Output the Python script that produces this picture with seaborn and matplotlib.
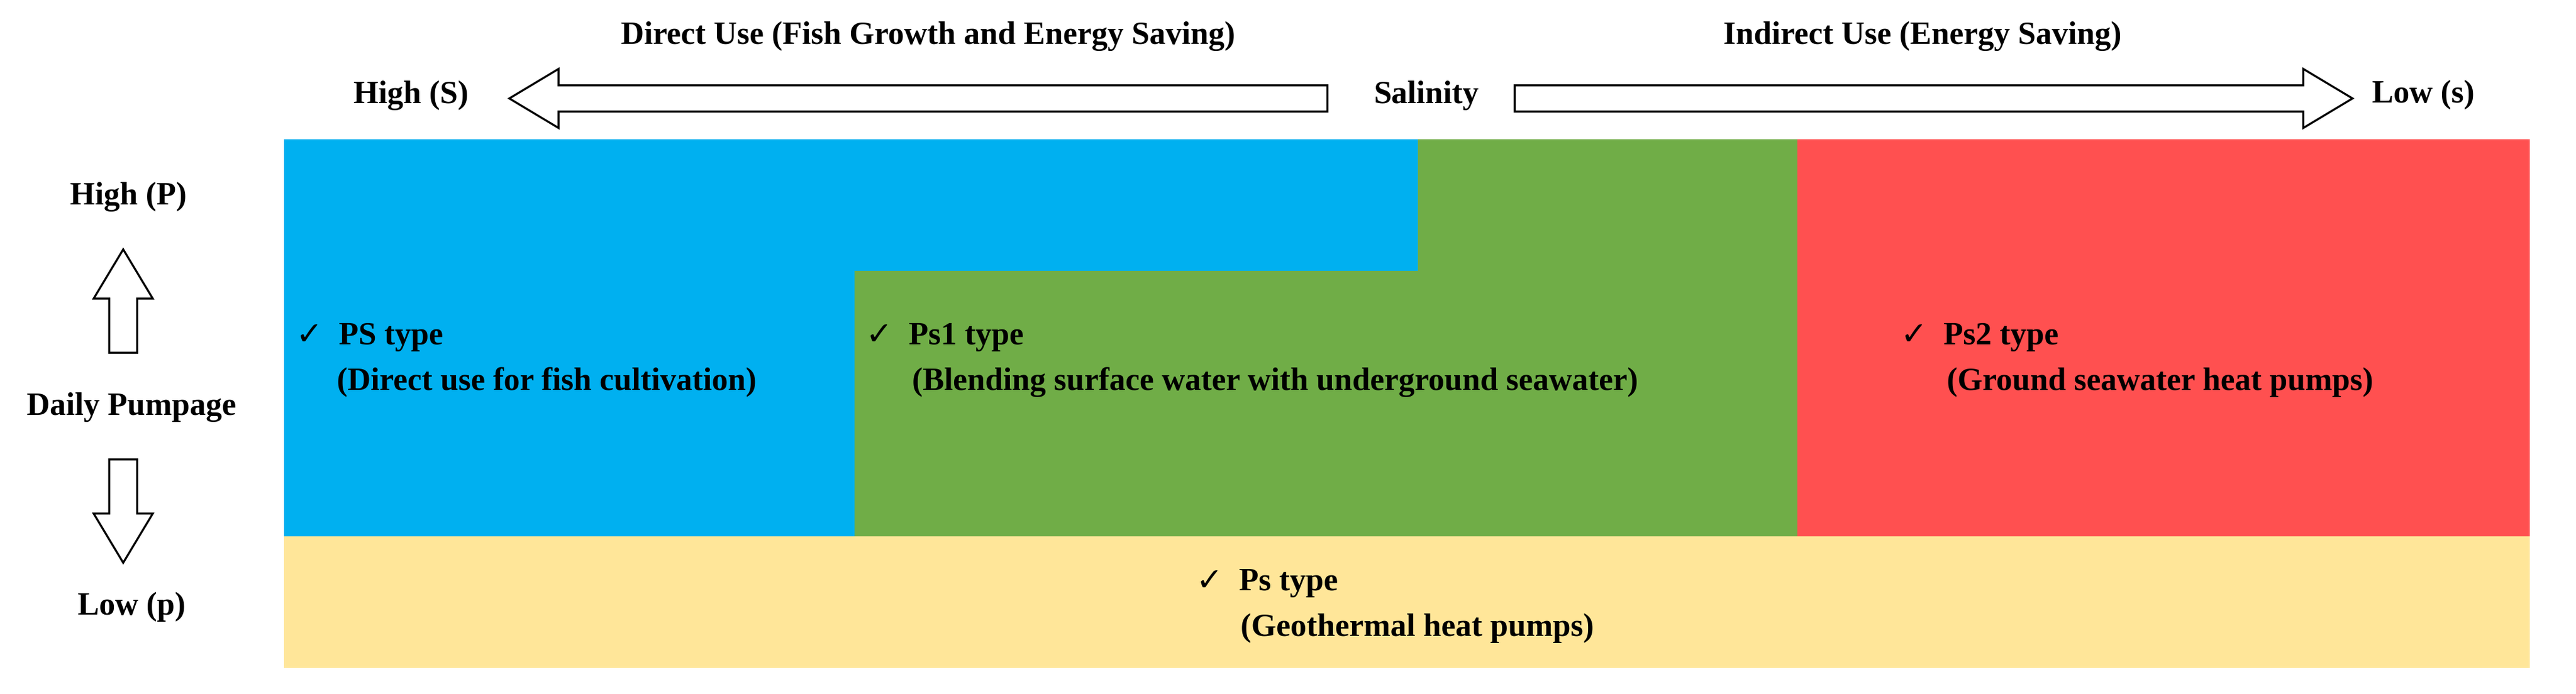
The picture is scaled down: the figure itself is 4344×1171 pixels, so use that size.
import matplotlib
matplotlib.use('Agg')
import matplotlib.pyplot as plt
import seaborn as sns
from matplotlib.patches import Polygon, FancyArrow

sns.set_theme(style='white')
plt.rcParams['font.family'] = ['Liberation Serif', 'DejaVu Sans']
plt.rcParams['font.weight'] = 'bold'
plt.rcParams['text.color'] = 'black'

# regions as polygons in reference pixel units (1568 x 423 canvas)
region_names = ['PS', 'Ps1', 'Ps2', 'Ps']
region_colors = ['#00B0F0', '#70AD47', '#FF5050', '#FFE699']
region_polys = [
    [(173, 85), (863, 85), (863, 165), (520, 165), (520, 327), (173, 327)],
    [(863, 85), (1094, 85), (1094, 327), (520, 327), (520, 165), (863, 165)],
    [(1094, 85), (1540, 85), (1540, 327), (1094, 327)],
    [(173, 327), (1540, 327), (1540, 407), (173, 407)],
]
type_titles = ['\u2713  PS type', '\u2713  Ps1 type', '\u2713  Ps2 type', '\u2713  Ps type']
type_descs = ['(Direct use for fish cultivation)',
              '(Blending surface water with underground seawater)',
              '(Ground seawater heat pumps)',
              '(Geothermal heat pumps)']
title_pos = [(180, 205), (527, 205), (1157, 205), (728, 355)]
desc_pos = [(205, 233), (555, 233), (1185, 233), (755, 383)]

fig = plt.figure(figsize=(43.44, 11.71), dpi=100)
ax = fig.add_axes([0, 0, 1, 1])
ax.set_xlim(0, 1568)
ax.set_ylim(423, 0)
ax.axis('off')

fs = 39
for poly, col in zip(region_polys, region_colors):
    ax.add_patch(Polygon(poly, closed=True, facecolor=col, edgecolor='none'))
for t, d, tp, dp in zip(type_titles, type_descs, title_pos, desc_pos):
    ax.text(*tp, t, fontsize=fs, ha='left', va='center', fontweight='bold')
    ax.text(*dp, d, fontsize=fs, ha='left', va='center', fontweight='bold')

# top header
ax.text(565, 22, 'Direct Use (Fish Growth and Energy Saving)', fontsize=fs, ha='center', va='center')
ax.text(1170, 22, 'Indirect Use (Energy Saving)', fontsize=fs, ha='center', va='center')
ax.text(250, 58, 'High (S)', fontsize=fs, ha='center', va='center')
ax.text(868, 58, 'Salinity', fontsize=fs, ha='center', va='center')
ax.text(1475, 58, 'Low (s)', fontsize=fs, ha='center', va='center')

# left labels
ax.text(78, 120, 'High (P)', fontsize=fs, ha='center', va='center')
ax.text(80, 248, 'Daily Pumpage', fontsize=fs, ha='center', va='center')
ax.text(80, 370, 'Low (p)', fontsize=fs, ha='center', va='center')

arrow_kw = dict(facecolor='white', edgecolor='black', linewidth=2.5,
                length_includes_head=True)
ax.add_patch(FancyArrow(808, 60, -498, 0, width=16, head_width=36, head_length=30, **arrow_kw))
ax.add_patch(FancyArrow(922, 60, 510, 0, width=16, head_width=36, head_length=30, **arrow_kw))
ax.add_patch(FancyArrow(75, 215, 0, -63, width=17, head_width=36, head_length=30, **arrow_kw))
ax.add_patch(FancyArrow(75, 280, 0, 63, width=17, head_width=36, head_length=30, **arrow_kw))

fig.savefig('out.png', dpi=100, facecolor='white')
